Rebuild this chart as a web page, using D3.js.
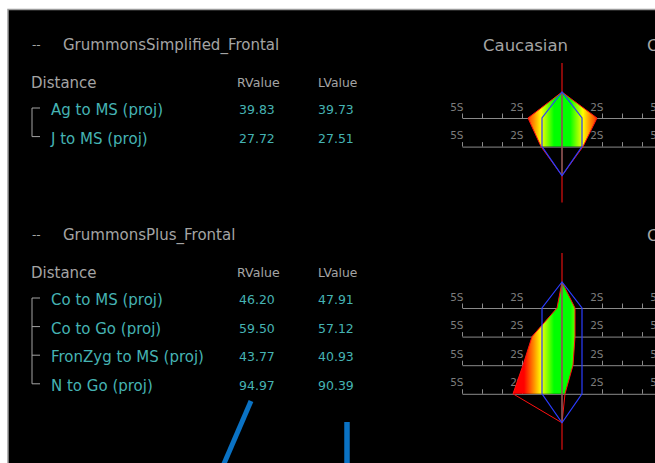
<!DOCTYPE html>
<html><head><meta charset="utf-8">
<script src="https://cdn.jsdelivr.net/npm/d3@7"></script>
<style>html,body{margin:0;padding:0;background:#fff;overflow:hidden}</style>
</head><body><svg id="c" width="655" height="463"></svg>
<script>
// ---------- data ----------
const groupTitles = ["GrummonsSimplified_Frontal", "GrummonsPlus_Frontal"];
const columnHeaders = ["Distance", "RValue", "LValue"];
const simplifiedLabels = ["Ag to MS (proj)", "J to MS (proj)"];
const simplifiedR = [39.83, 27.72];
const simplifiedL = [39.73, 27.51];
const plusLabels = ["Co to MS (proj)", "Co to Go (proj)", "FronZyg to MS (proj)", "N to Go (proj)"];
const plusR = [46.20, 59.50, 43.77, 94.97];
const plusL = [47.91, 57.12, 40.93, 90.39];
const normTitle = "Caucasian";
// deviation in standard deviations drawn by the norm charts
const simplifiedLeftSD = [-1.7, -1.05];
const simplifiedRightSD = [1.75, 1.05];
const plusLeftSD = [-0.25, -1.5, -1.95, -2.45];
const plusRightSD = [0.65, 0.65, 0.55, 0.15];
const normSD = [-1, 1];
const sdTicks = [-5, -4, -3, -2, 2, 3, 4, 5];
const sdTickLabels = { "-5": "5S", "-2": "2S", "2": "2S", "5": "5S" };

const sections = [
  { title: groupTitles[0], labels: simplifiedLabels, r: simplifiedR, l: simplifiedL,
    left: simplifiedLeftSD, right: simplifiedRightSD, showTitle: true },
  { title: groupTitles[1], labels: plusLabels, r: plusR, l: plusL,
    left: plusLeftSD, right: plusRightSD, showTitle: false }
];

// ---------- drawing ----------
const svg = d3.select("#c");
const FONT = "DejaVu Sans, sans-serif";
const GRAY = "#a4a4a4", TEAL = "#45b3b3", AXIS = "#8a8a8a";
const fmt = d3.format(".2f");
const cx = 562;
const x = d3.scaleLinear().domain([-5, 5]).range([cx - 100, cx + 100]);

// background panel
svg.append("rect").attr("x", 8).attr("y", 9.5).attr("width", 700).attr("height", 500)
  .attr("fill", "#000").attr("stroke", "#9c9c9c").attr("stroke-width", 1.5);

// gradient for the deviation fill
const defs = svg.append("defs");
const grad = defs.append("linearGradient").attr("id", "dev")
  .attr("gradientUnits", "userSpaceOnUse")
  .attr("x1", cx - 50).attr("x2", cx + 50).attr("y1", 0).attr("y2", 0);
[[0, "#ff0000"], [0.12, "#ff0000"], [0.22, "#ff9000"], [0.29, "#ffff00"], [0.42, "#00ff00"],
 [0.58, "#00ff00"], [0.71, "#ffff00"], [0.78, "#ff9000"], [0.88, "#ff0000"], [1, "#ff0000"]]
  .forEach(([o, c]) => grad.append("stop").attr("offset", o).attr("stop-color", c));

const line = d3.line().x(d => d[0]).y(d => d[1]);

sections.forEach((s, si) => {
  const o = si * 190;
  const n = s.labels.length;
  const rowY = d3.scaleLinear().domain([0, 1]).range([o + 110, o + 110 + 28.6]);
  const g = svg.append("g");

  // headers
  g.append("text").attr("x", 32).attr("y", o + 49).text("--")
    .attr("font-family", FONT).attr("font-size", 12).attr("fill", GRAY);
  g.append("text").attr("x", 63).attr("y", o + 50).text(s.title)
    .attr("font-family", FONT).attr("font-size", 15).attr("fill", GRAY);
  g.append("text").attr("x", 31).attr("y", o + 88).text(columnHeaders[0])
    .attr("font-family", FONT).attr("font-size", 15).attr("fill", GRAY);
  g.append("text").attr("x", 237).attr("y", o + 87).text(columnHeaders[1])
    .attr("font-family", FONT).attr("font-size", 12.6).attr("fill", GRAY);
  g.append("text").attr("x", 318).attr("y", o + 87).text(columnHeaders[2])
    .attr("font-family", FONT).attr("font-size", 12.3).attr("fill", GRAY);

  // rows
  s.labels.forEach((lab, i) => {
    const y = rowY(i);
    g.append("text").attr("x", 51).attr("y", y + 5).text(lab)
      .attr("font-family", FONT).attr("font-size", 15).attr("fill", TEAL);
    g.append("text").attr("x", 239).attr("y", y + 4).text(fmt(s.r[i]))
      .attr("font-family", FONT).attr("font-size", 12.5).attr("fill", TEAL);
    g.append("text").attr("x", 318).attr("y", y + 4).text(fmt(s.l[i]))
      .attr("font-family", FONT).attr("font-size", 12.5).attr("fill", TEAL);
    g.append("line").attr("x1", 32).attr("x2", 40).attr("y1", y - 2).attr("y2", y - 2)
      .attr("stroke", GRAY).attr("stroke-width", 1);
  });
  g.append("line").attr("x1", 32).attr("x2", 32).attr("y1", rowY(0) - 2).attr("y2", rowY(n - 1) - 2)
    .attr("stroke", GRAY).attr("stroke-width", 1);

  // norm chart
  if (s.showTitle) {
    g.append("text").attr("x", 483).attr("y", o + 51).text(normTitle)
      .attr("font-family", FONT).attr("font-size", 16.5).attr("fill", GRAY);
  }
  g.append("text").attr("x", 647).attr("y", o + 51).text(normTitle)
    .attr("font-family", FONT).attr("font-size", 16.5).attr("fill", GRAY);

  const axY = i => rowY(i) + 8;
  const topY = axY(0) - 26, botY = axY(n - 1) + 29;

  s.labels.forEach((lab, i) => {
    const ax = g.append("g").attr("transform", `translate(0,${axY(i)})`)
      .call(d3.axisTop(x).tickValues(sdTicks).tickSize(4.5).tickSizeOuter(0)
        .tickFormat(d => sdTickLabels[String(d)] || ""));
    ax.select(".domain").attr("stroke", AXIS);
    ax.selectAll(".tick line").attr("stroke", AXIS);
    ax.selectAll(".tick text").attr("fill", "#7c7c7c").attr("font-family", FONT)
      .attr("font-size", 10.5).attr("text-anchor", "end").attr("x", 1);
  });

  // fill polygon
  const leftPts = s.left.map((v, i) => [x(v), axY(i)]);
  const rightPts = s.right.map((v, i) => [x(v), axY(i)]);
  const fillPts = [[x(0), topY], ...leftPts, ...rightPts.slice().reverse()];
  g.append("path").attr("d", line(fillPts) + "Z").attr("fill", "url(#dev)");
  const outline = [[x(0), topY], ...leftPts, [x(0), botY], ...rightPts.slice().reverse()];
  g.append("path").attr("d", line(outline) + "Z").attr("fill", "none")
    .attr("stroke", "#ff1010").attr("stroke-width", 1);

  // center line
  g.append("line").attr("x1", x(0)).attr("x2", x(0)).attr("y1", topY - 29).attr("y2", botY + 27)
    .attr("stroke", "#e01010").attr("stroke-width", 1.2);
  g.append("line").attr("x1", x(0)).attr("x2", x(0)).attr("y1", topY).attr("y2", botY)
    .attr("stroke", "#6f6f6f").attr("stroke-width", 1.2);

  // norm hexagon
  const normLeft = s.labels.map((_, i) => [x(normSD[0]), axY(i)]);
  const normRight = s.labels.map((_, i) => [x(normSD[1]), axY(i)]).reverse();
  const hex = [[x(0), topY], ...normLeft, [x(0), botY], ...normRight];
  g.append("path").attr("d", line(hex) + "Z").attr("fill", "none")
    .attr("stroke", "#2a3cff").attr("stroke-width", 1.2);
});

// blue annotation strokes
svg.append("line").attr("x1", 251).attr("y1", 401).attr("x2", 223).attr("y2", 466)
  .attr("stroke", "#0a72c4").attr("stroke-width", 5);
svg.append("line").attr("x1", 347).attr("y1", 422).attr("x2", 347).attr("y2", 466)
  .attr("stroke", "#0a72c4").attr("stroke-width", 5.5);
</script></body></html>
